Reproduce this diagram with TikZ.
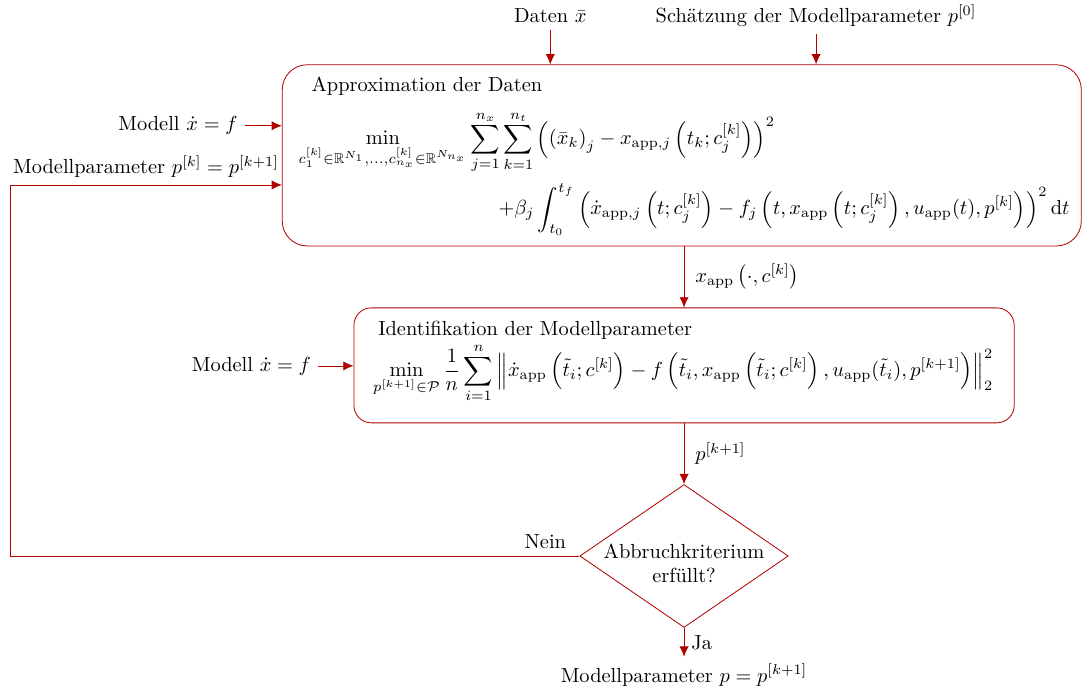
\documentclass[tikz,border=0pt]{standalone}
\usepackage{amsmath,amssymb}
\usetikzlibrary{arrows.meta,positioning,shapes.geometric}
\definecolor{darkred}{RGB}{176,0,0}

\begin{document}
\begin{tikzpicture}[scale=0.98,
    flow/.style={-{Latex[length=5pt,width=4.5pt]}, draw=darkred},
    stepbox/.style={draw=darkred, rounded corners=#1},
    decision/.style={diamond, draw=darkred, inner sep=0pt, minimum width=3.59cm, minimum height=2.46cm}
]
    \useasboundingbox (0,0) rectangle (19.03,-12.14);

    % Boxes
    \node[stepbox=0.43cm, minimum width=13.76cm, minimum height=3.12cm] (approx) at (11.98,-2.73) {};
    \node[stepbox=0.3cm, minimum width=11.37cm, minimum height=1.98cm] (ident) at (12.02,-6.42) {};
    \node[decision] (check) at (12.02,-9.77) {};
    \node[align=center] (checktext) at (12.02,-9.90) {Abbruchkriterium\\erfüllt?};

    % Approximation der Daten
    \node[anchor=west] (approxtitle) at (5.35,-1.51) {Approximation der Daten};
    \node[anchor=west] (approxmin) at (5.12,-2.50)
        {$\displaystyle \min_{c_1^{[k]}\in\mathbb{R}^{N_1},\dots,c_{n_x}^{[k]}\in\mathbb{R}^{N_{n_x}}}
        \sum_{j=1}^{n_x}\sum_{k=1}^{n_t}\left(\left(\bar{x}_k\right)_j - x_{\text{app},j}\left(t_k;c_j^{[k]}\right)\right)^2$};
    \node[anchor=east] (approxint) at (18.92,-3.68)
        {$\displaystyle +\beta_j\int_{t_0}^{t_f}\left(\dot{x}_{\text{app},j}\left(t;c_j^{[k]}\right)
        - f_j\left(t,x_{\text{app}}\left(t;c_j^{[k]}\right),u_{\text{app}}(t),p^{[k]}\right)\right)^2\mathrm{d}t$};

    % Identifikation der Modellparameter
    \node[anchor=west] (identtitle) at (6.52,-5.80) {Identifikation der Modellparameter};
    \node[anchor=west] (identmin) at (6.43,-6.55)
        {$\displaystyle \min_{p^{[k+1]}\in\mathcal{P}}\frac{1}{n}\sum_{i=1}^{n}
        \left\|\dot{x}_{\text{app}}\left(\tilde{t}_i;c^{[k]}\right)
        - f\left(\tilde{t}_i,x_{\text{app}}\left(\tilde{t}_i;c^{[k]}\right),u_{\text{app}}(\tilde{t}_i),p^{[k+1]}\right)\right\|_2^2$};

    % Inputs
    \node (daten) at (9.67,-0.28) {Daten $\bar{x}$};
    \node (schaetzung) at (14.34,-0.28) {Schätzung der Modellparameter $p^{[0]}$};
    \node[anchor=east] (modellA) at (4.30,-2.21) {Modell $\dot{x} = f$};
    \node[anchor=east] (modellB) at (5.59,-6.43) {Modell $\dot{x} = f$};
    \node (result) at (12.02,-11.86) {Modellparameter $p = p^{[k+1]}$};

    \draw[flow] (daten.south) -- (daten.south |- approx.north);
    \draw[flow] (schaetzung.south) -- (schaetzung.south |- approx.north);
    \draw[flow] (modellA.east) -- (modellA.east -| approx.west);
    \draw[flow] (modellB.east) -- (modellB.east -| ident.west);

    % Main flow
    \draw[flow] (ident.north |- approx.south) -- node[right, xshift=2pt] {$x_{\text{app}}\left(\cdot,c^{[k]}\right)$} (ident.north);
    \draw[flow] (ident.south) -- node[right, xshift=2pt] {$p^{[k+1]}$} (check.north);
    \draw[flow] (check.south) -- node[right] {Ja} (result.north);

    % Feedback loop
    \coordinate (fbcorner) at (0.18,-9.77);
    \coordinate (fbin) at (approx.west |- 0,-3.25);
    \draw[flow] (check.west) node[above left, xshift=-3pt] {Nein} -- (fbcorner) |- node[pos=0.75, above] {Modellparameter $p^{[k]} = p^{[k+1]}$} (fbin);
\end{tikzpicture}
\end{document}
